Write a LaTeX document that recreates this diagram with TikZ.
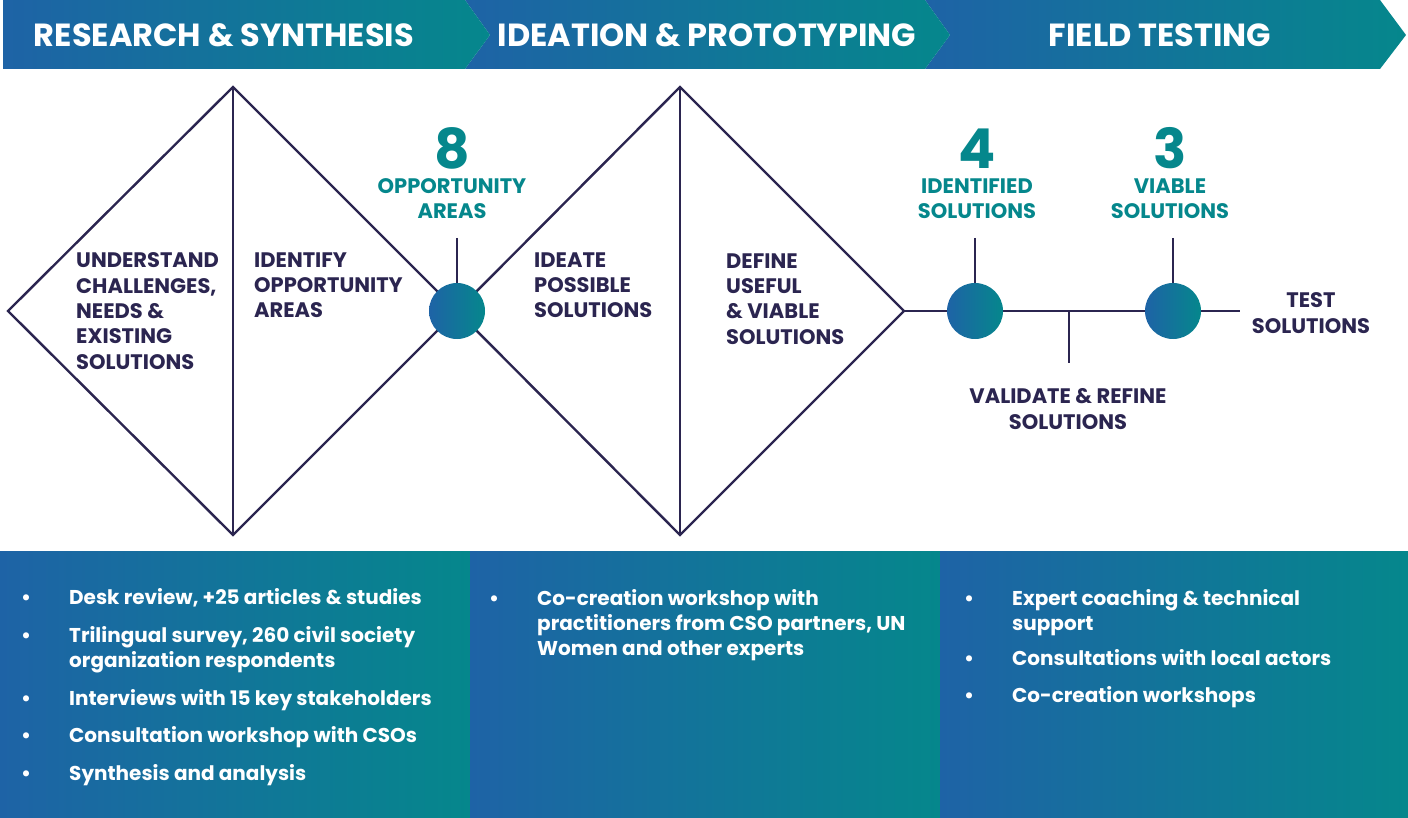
\documentclass[tikz,border=0pt]{standalone}
\usepackage{fontspec}
\setmainfont{Poppins}
\usetikzlibrary{positioning}
\definecolor{navy}{HTML}{2B2550}
\definecolor{tealc}{HTML}{05878C}
\definecolor{bluec}{HTML}{1E63A6}
\definecolor{midc}{HTML}{0F75A0}

\newcommand\itm{\makebox[48pt][l]{\textbullet}}
\newcommand\cnt{\hspace*{48pt}}
\newcommand\bignum[1]{{\fontsize{55}{58}\selectfont #1}}

\tikzset{
  line/.style={navy, line width=2.4pt},
  banner/.style={left color=bluec, right color=tealc},
  panel/.style={left color=bluec, middle color=midc, right color=tealc},
  dot/.style={circle, minimum size=56pt, inner sep=0pt, left color=bluec, right color=tealc},
  title/.style={white, inner sep=0pt, font=\fontsize{32}{36}\selectfont\bfseries},
  stage/.style={navy, align=left, anchor=base west, inner sep=0pt, font=\fontsize{21}{25.3}\selectfont\bfseries},
  result/.style={tealc, align=center, anchor=base, inner sep=0pt, font=\fontsize{21}{25}\selectfont\bfseries},
  items/.style={white, align=left, anchor=base west, inner sep=0pt, font=\fontsize{20}{25}\selectfont\bfseries}
}

\begin{document}
\begin{tikzpicture}[x=1pt,y=-1pt]
\useasboundingbox (0,0) rectangle (1408,818);

% phase banners
\shade[banner] (925,0) -- (1380,0) -- (1406,35) -- (1380,69) -- (925,69) -- (950,35) -- cycle;
\shade[banner] (465,0) -- (925,0) -- (950,35) -- (925,69) -- (465,69) -- (490,35) -- cycle;
\shade[banner] (3,0) -- (465,0) -- (490,35) -- (465,69) -- (3,69) -- cycle;
\node[title] (t1) at (224,35) {RESEARCH \& SYNTHESIS};
\node[title] (t2) at (707,35) {IDEATION \& PROTOTYPING};
\node[title] (t3) at (1160,35) {FIELD TESTING};

% double diamond
\draw[line] (8,311) -- (233,87) -- (457,311) -- (233,535) -- cycle;
\draw[line] (233,87) -- (233,535);
\draw[line] (457,311) -- (680,87) -- (904,311) -- (680,535) -- cycle;
\draw[line] (680,87) -- (680,535);

% (base = last line)
\node[stage] (s1) at (76,369) {UNDERSTAND\\CHALLENGES,\\NEEDS \&\\EXISTING\\SOLUTIONS};
\node[stage] (s2) at (254,318) {IDENTIFY\\OPPORTUNITY\\AREAS};
\node[stage] (s3) at (534,318) {IDEATE\\POSSIBLE\\SOLUTIONS};
\node[stage] (s4) at (726,344) {DEFINE\\USEFUL\\\& VIABLE\\SOLUTIONS};

% testing line
\coordinate (lend) at (1240,311);
\coordinate (vtop) at (1069,311);
\coordinate (vbot) at (1069,363);
\draw[line] (904,311) -- (lend);
\draw[line] (vtop) -- (vbot);

\coordinate (k1) at (457,238);
\coordinate (k2) at (975,238);
\coordinate (k3) at (1173,238);
\node[dot] (c1) at (457,311) {};
\node[dot] (c2) at (975,311) {};
\node[dot] (c3) at (1173,311) {};
\draw[line] (k1) -- (c1);
\draw[line] (k2) -- (c2);
\draw[line] (k3) -- (c3);

\node[result] (r1) at (452,219) {\bignum{8}\\OPPORTUNITY\\AREAS};
\node[result] (r2) at (977,219) {\bignum{4}\\IDENTIFIED\\SOLUTIONS};
\node[result] (r3) at (1170,219) {\bignum{3}\\VIABLE\\SOLUTIONS};

\node[stage, align=center, anchor=base] (v1) at (1068,429) {VALIDATE \& REFINE\\SOLUTIONS};
\node[stage, align=center, anchor=base] (e1) at (1311,333) {TEST\\SOLUTIONS};

% activity panels
\shade[panel] (0,551) rectangle (470,818);
\shade[panel] (470,551) rectangle (940,818);
\shade[panel] (940,551) rectangle (1408,818);

\node[items] (p1) at (21,780) {\itm Desk review, +25 articles \& studies\\[13pt]
\itm Trilingual survey, 260 civil society\\\cnt organization respondents\\[13pt]
\itm Interviews with 15 key stakeholders\\[12pt]
\itm Consultation workshop with CSOs\\[13pt]
\itm Synthesis and analysis};
\node[items] (p2) at (489,655) {\itm Co-creation workshop with\\
\cnt practitioners from CSO partners, UN\\\cnt Women and other experts};
\node[items] (p3) at (964,702) {\itm Expert coaching \& technical\\\cnt support\\[10pt]
\itm Consultations with local actors\\[12pt]
\itm Co-creation workshops};
\end{tikzpicture}
\end{document}
